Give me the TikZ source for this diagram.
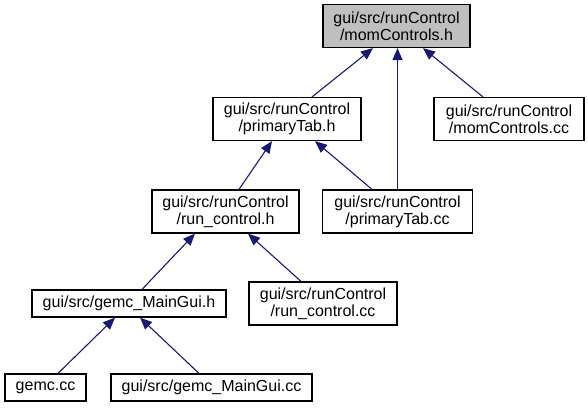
\documentclass[tikz,border=0pt]{standalone}
\usepackage{fontspec}
\setmainfont{Liberation Sans}
\usetikzlibrary{arrows.meta,calc}
\definecolor{edgeblue}{HTML}{191970}
\definecolor{rootgray}{HTML}{BFBFBF}
\tikzset{
  filebox/.style={draw=black, line width=1.2pt, fill=white, inner sep=0pt, align=center,
    font=\fontsize{16}{17}\selectfont, minimum height=43pt},
  onerow/.style={minimum height=27pt},
  dep/.style={draw=edgeblue, line width=1.1pt, -{Triangle[length=12pt,width=10pt]}},
}
\begin{document}
\begin{tikzpicture}[x=1pt,y=-1pt]
\useasboundingbox (0,0) rectangle (588,407);
\node[filebox, fill=rootgray, minimum width=147pt] (A) at (396.5,26) {gui/src/runControl\\/momControls.h};
\node[filebox, minimum width=148pt] (B) at (287,119) {gui/src/runControl\\/primaryTab.h};
\node[filebox, minimum width=150pt] (C) at (509,119) {gui/src/runControl\\/momControls.cc};
\node[filebox, minimum width=147pt] (D) at (225.5,211.5) {gui/src/runControl\\/run\_control.h};
\node[filebox, minimum width=150pt] (E) at (397.5,211.5) {gui/src/runControl\\/primaryTab.cc};
\node[filebox, onerow, minimum width=194pt] (F) at (129,303.5) {gui/src/gemc\_MainGui.h};
\node[filebox, minimum width=148pt] (G) at (323,303.5) {gui/src/runControl\\/run\_control.cc};
\node[filebox, onerow, minimum width=81pt] (H) at (45.5,387.5) {gemc.cc};
\node[filebox, onerow, minimum width=201pt] (I) at (211.5,387.5) {gui/src/gemc\_MainGui.cc};

\draw[dep] ($(B.north)+(25,0)$) -- ($(A.south)+(-23.5,0)$);
\draw[dep] (E.north) -- (E.north |- A.south);
\draw[dep] ($(C.north)+(-26,0)$) -- ($(A.south)+(26.5,0)$);
\draw[dep] ($(D.north)+(13.5,0)$) -- ($(B.south)+(-15,0)$);
\draw[dep] ($(E.north)+(-25.5,0)$) -- ($(B.south)+(28,0)$);
\draw[dep] ($(F.north)+(13,0)$) -- ($(D.south)+(-30.5,0)$);
\draw[dep] ($(G.north)+(-22,0)$) -- ($(D.south)+(22.5,0)$);
\draw[dep] ($(H.north)+(12.5,0)$) -- ($(F.south)+(-14,0)$);
\draw[dep] ($(I.north)+(-12.5,0)$) -- ($(F.south)+(11,0)$);
\end{tikzpicture}
\end{document}
